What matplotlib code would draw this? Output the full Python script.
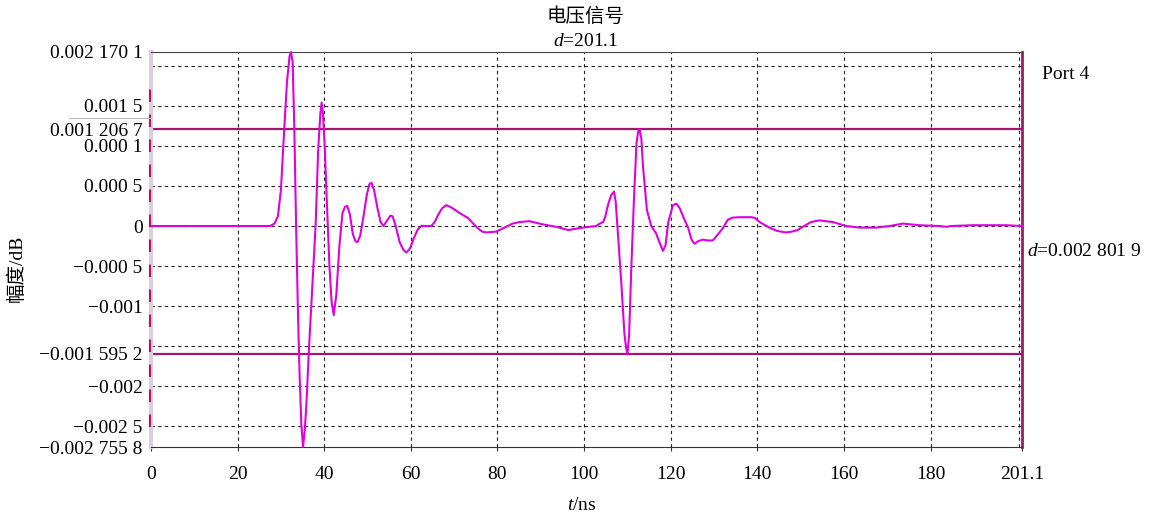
import matplotlib
matplotlib.use('Agg')
import matplotlib.pyplot as plt
from matplotlib.lines import Line2D

plt.rcParams['font.family'] = ['Liberation Serif', 'Noto Sans CJK SC']
plt.rcParams['mathtext.fontset'] = 'custom'
plt.rcParams['mathtext.rm'] = 'Liberation Serif'
plt.rcParams['mathtext.it'] = 'Liberation Serif:italic'

# time axis (ns) and amplitude (x 1e-4)
t_ns = [0, 10, 20, 27.5, 28.5, 29.3, 30.0, 30.7, 31.4, 32.0,
        32.3, 32.7, 33.1, 33.5, 33.9, 34.3, 34.7, 35.1, 35.5, 35.9,
        36.5, 37.2, 38.0, 38.6, 39.1, 39.4, 39.7, 40.1, 40.6, 41.2,
        41.7, 42.2, 42.8, 43.5, 44.2, 44.8, 45.3, 45.9, 46.6, 47.2,
        47.7, 48.3, 49.0, 49.8, 50.4, 50.9, 51.5, 52.3, 53.0, 53.7,
        54.5, 55.3, 55.8, 56.5, 57.4, 58.3, 59.0, 59.8, 60.7, 61.6,
        62.4, 64.7, 65.5, 66.3, 67.2, 68.2, 69.0, 69.7, 71.3, 73.2,
        74.4, 75.5, 76.5, 77.4, 79.7, 82.0, 83.5, 85.1, 87.4, 90.5,
        93.6, 96.3, 99.7, 102.8, 103.6, 104.4, 104.9, 105.5, 106.2, 106.9,
        107.3, 107.8, 108.6, 109.3, 109.7, 110.0, 110.4, 110.9, 111.5, 112.1,
        112.5, 112.8, 113.2, 113.6, 114.5, 115.5, 116.6, 117.3, 118.2, 118.8,
        119.4, 120.5, 121.3, 122.1, 123.0, 124.0, 124.8, 125.5, 126.3, 127.4,
        128.6, 129.7, 130.8, 132.0, 133.2, 134.3, 136.0, 138.6, 139.5, 140.5,
        142.8, 144.5, 146.6, 148.0, 149.3, 150.8, 152.4, 154.3, 157.4, 160.5,
        163.6, 167.4, 170.5, 173.6, 177.4, 182.0, 183.7, 184.7, 189.7, 197.4,
        201.1]
amp_e4 = [0, 0, 0, 0, 0.3, 1.2, 4.5, 11.5, 18, 21.2,
          21.701, 20.5, 12, 0, -10, -18.4, -24.6, -27.558, -25.5, -22,
          -15, -8, 0, 9.5, 14, 15.4, 14, 10, 3, -5,
          -9.5, -11.1, -8.5, -2.5, 1.6, 2.4, 2.5, 1.5, -1, -1.9,
          -2, -1.2, 1, 3.8, 5.2, 5.4, 4.5, 2.2, 0.5, 0,
          0.7, 1.3, 1.2, 0, -2, -3, -3.3, -2.8, -1.5, -0.4,
          0, 0, 0.5, 1.4, 2.2, 2.6, 2.4, 2.2, 1.6, 1.0,
          0.3, -0.3, -0.7, -0.8, -0.7, -0.1, 0.3, 0.5, 0.6, 0.2,
          -0.1, -0.5, -0.2, 0, 0.3, 0.5, 1.2, 2.6, 3.8, 4.3,
          3.0, -0.9, -7.2, -13.4, -15.2, -15.952, -13.5, -5.1, 3.25, 10.4,
          11.8, 12.067, 11, 7.4, 2, 0, -0.9, -1.9, -3.1, -2.4,
          0.4, 2.6, 2.8, 2.2, 1, -0.2, -1.7, -2.2, -1.9, -1.7,
          -1.8, -1.8, -1.1, -0.3, 0.8, 1.05, 1.1, 1.1, 1.0, 0.5,
          -0.2, -0.6, -0.8, -0.7, -0.5, 0, 0.5, 0.7, 0.5, 0,
          -0.2, -0.2, 0, 0.3, 0.1, 0, -0.1, 0, 0.1, 0.1,
          0]
amp = [a * 1e-4 for a in amp_e4]

x_ticks = [0, 20, 40, 60, 80, 100, 120, 140, 160, 180, 201.1]
x_labels = ['0', '20', '40', '60', '80', '100', '120', '140', '160', '180', '201.1']
y_ticks = [0.0021701, 0.0015, 0.0012067, 0.001, 0.0005, 0,
           -0.0005, -0.001, -0.0015952, -0.002, -0.0025, -0.0027558]
y_labels = ['0.002 170 1', '0.001 5', '0.001 206 7', '0.000 1', '0.000 5', '0',
            '\u22120.000 5', '\u22120.001', '\u22120.001 595 2', '\u22120.002',
            '\u22120.002 5', '\u22120.002 755 8']
grid_x = [20, 40, 60, 80, 100, 120, 140, 160, 180, 200.4]
grid_y = [0.002, 0.0015, 0.001, 0.0005, 0, -0.0005, -0.001, -0.0015, -0.002, -0.0025]
marker_y = [0.0012067, -0.0015952]

W, H = 1154, 515
fig = plt.figure(figsize=(W / 100, H / 100), dpi=100)
ax = fig.add_axes([151 / W, 1 - 447 / H, (1022 - 151) / W, (447 - 52) / H])

ax.set_xlim(0, 201.1)
ax.set_ylim(-0.0027558, 0.0021701)

grid_style = dict(color='#222222', lw=0.8, ls=(0, (3, 3)), zorder=1)
for gx in grid_x:
    ax.axvline(gx, **grid_style)
for gy in grid_y:
    ax.axhline(gy, **grid_style)

marker_col = '#A3166E'
for my in marker_y:
    ax.axhline(my, color=marker_col, lw=1.6, zorder=2)

ax.plot(t_ns, amp, color='#E000E0', lw=1.5, zorder=3, clip_on=False)

ax.set_xticks(x_ticks)
ax.set_xticklabels(x_labels, fontsize=14)
ax.set_yticks(y_ticks)
ax.set_yticklabels(y_labels, fontsize=14)
ax.tick_params(axis='y', length=0, pad=6)
ax.tick_params(axis='x', length=3, width=0.8, color='#333333', pad=11)

ax.spines['top'].set_color('#444444')
ax.spines['bottom'].set_color('#333333')
ax.spines['left'].set_color('#D9D0D9')
ax.spines['left'].set_linewidth(3)
ax.spines['right'].set_color(marker_col)
ax.spines['right'].set_linewidth(2)

# dashed marker line on the left edge
ax.plot([-0.0015, -0.0015], [0.05, 0.92], transform=ax.transAxes, color='#B0146E',
        lw=1.5, ls=(0, (6, 6)), clip_on=False, zorder=4)

fig.text(586 / W, 1 - 17 / H, '电压信号', ha='center', va='center', fontsize=14)
fig.text(586 / W, 1 - 41 / H, '$d$=201.1', ha='center', va='center', fontsize=14)
fig.text(17 / W, 1 - 268 / H, '幅度/dB', ha='center', va='center', rotation=90, fontsize=14)
fig.text(582 / W, 1 - 505 / H, '$t$/ns', ha='center', va='center', fontsize=14)
fig.text(1042 / W, 1 - 75 / H, 'Port 4', ha='left', va='center', fontsize=14)
fig.text(1027 / W, 1 - 251 / H, '$d$=0.002 801 9', ha='left', va='center', fontsize=14)

fig.add_artist(Line2D([69 / W, 150 / W], [1 - 118 / H, 1 - 118 / H], color='#BBBBBB', lw=0.8))

fig.savefig('out.png', dpi=100)
